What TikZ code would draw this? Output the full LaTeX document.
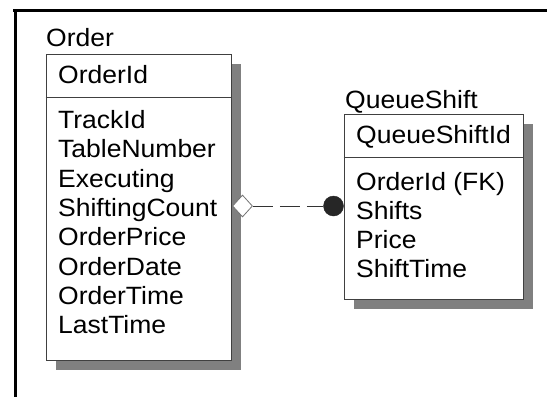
\documentclass[tikz,border=0pt]{standalone}
\usepackage{fontspec}
\newfontfamily\erfont{Liberation Sans}[FakeStretch=1.06]
\usetikzlibrary{shapes.geometric,shadows}
\tikzset{
  erbox/.style={draw=black!75, line width=1pt, fill=white, inner sep=0pt,
    drop shadow={shadow xshift=10pt, shadow yshift=-10pt, fill=black!50, opacity=1}},
  divider/.style={draw=black!75, line width=1pt},
  lbl/.style={anchor=base west, inner sep=0pt, font=\erfont\fontsize{25}{29}\selectfont, text=black},
  frame/.style={line width=3pt, draw=black},
  agg/.style={diamond, draw=black!55, fill=white, line width=0.8pt, inner sep=0pt, minimum width=20pt, minimum height=22pt},
  dot/.style={circle, fill=black!85, draw=black!85, inner sep=0pt, minimum size=20pt},
  relline/.style={draw=black!80, line width=1pt, dash pattern=on 20pt off 7pt}
}
\begin{document}
\begin{tikzpicture}[x=1pt,y=-1pt]
\useasboundingbox (0,0) rectangle (547,397);
% frame
\coordinate (ftr) at (547,10.5);
\coordinate (ftl) at (15.5,10.5);
\coordinate (fbl) at (15.5,397);
\draw[frame] (ftr) -- (13,10.5) (ftl) -- (fbl);
% Order entity
\node[erbox, minimum width=185pt, minimum height=306pt] (order) at (138.5,207) {};
\draw[divider] (order.west |- 0,97) -- (order.east |- 0,97);
\node[lbl] (ordername) at (46,46) {Order};
\node[lbl] (orderpk) at (58,83) {OrderId};
\foreach \t [count=\i from 0] in {TrackId,TableNumber,Executing,ShiftingCount,OrderPrice,OrderDate,OrderTime,LastTime}
  \node[lbl] (oattr\i) at (58,{128.5+29.3*\i}) {\t};
% QueueShift entity
\node[erbox, minimum width=179pt, minimum height=185pt] (qs) at (433.5,206.5) {};
\draw[divider] (qs.west |- 0,157.5) -- (qs.east |- 0,157.5);
\node[lbl] (qsname) at (345,108) {QueueShift};
\node[lbl] (qspk) at (356,143.5) {QueueShiftId};
\foreach \t [count=\i from 0] in {OrderId (FK),Shifts,Price,ShiftTime}
  \node[lbl] (qattr\i) at (356,{190+29.3*\i}) {\t};
% relationship
\node[agg] (dia) at (242.5,206) {};
\node[dot] (dt) at (333.5,206) {};
\draw[relline] (dia.east) -- (dt.west);
\end{tikzpicture}
\end{document}
